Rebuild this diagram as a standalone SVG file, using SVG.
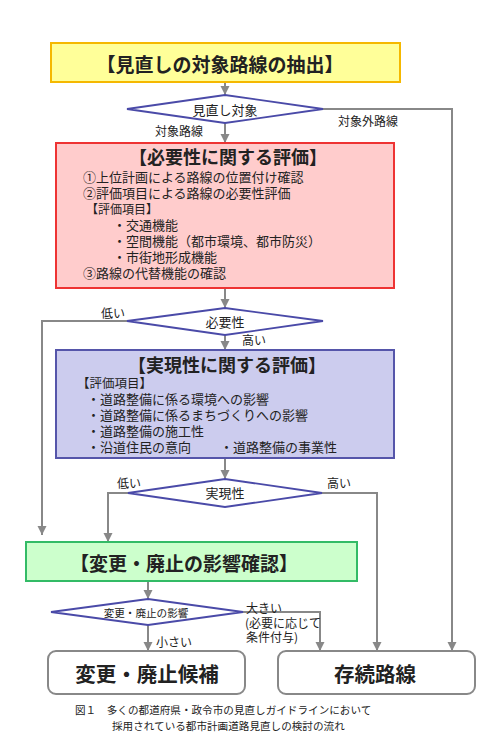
<svg xmlns="http://www.w3.org/2000/svg" width="493" height="732" viewBox="0 0 493 732">
<defs>
<style>
text{font-family:"Noto Sans CJK JP","Noto Sans CJK SC",sans-serif;fill:#222;dominant-baseline:central}
.t{font-weight:bold;text-anchor:middle}
.d{fill:#fff;stroke:#4a4aa8;stroke-width:1.8}
.c path{fill:none;stroke:#888;stroke-width:2}
.lb{font-size:12px}
.it{font-size:13px}
</style>
<marker id="ah" markerUnits="userSpaceOnUse" markerWidth="10" markerHeight="10" refX="9" refY="5" orient="auto"><path d="M0,0.5 L9,5 L0,9.5 Z" fill="#888"/></marker>
</defs>
<rect width="493" height="732" fill="#fff"/>

<g class="c">
<path d="M225,82 V95" marker-end="url(#ah)"/>
<path d="M225,123 V143" marker-end="url(#ah)"/>
<path d="M323,109 H452 V651" marker-end="url(#ah)"/>
<path d="M225,288 V308" marker-end="url(#ah)"/>
<path d="M127,321 H42 V535" marker-end="url(#ah)"/>
<path d="M225,335 V350" marker-end="url(#ah)"/>
<path d="M225,458 V479" marker-end="url(#ah)"/>
<path d="M128,493 H108 V542" marker-end="url(#ah)"/>
<path d="M322,493 H377 V651" marker-end="url(#ah)"/>
<path d="M148,581 V599" marker-end="url(#ah)"/>
<path d="M243,612 H320 V651" marker-end="url(#ah)"/>
<path d="M148,625 V651" marker-end="url(#ah)"/>
</g>

<g id="extract">
<rect x="51" y="43" width="349" height="39" fill="#ffff99" stroke="#f5b800" stroke-width="2"/>
<text class="t" x="220" y="63" font-size="19">【見直しの対象路線の抽出】</text>
</g>

<g id="dec1">
<polygon class="d" points="127,109 225,95 323,109 225,123"/>
<text x="225" y="109" font-size="13" text-anchor="middle">見直し対象</text>
</g>
<text class="lb" x="155" y="130">対象路線</text>
<text class="lb" x="338" y="120">対象外路線</text>

<g id="necessity">
<rect x="56" y="143" width="338" height="145" fill="#ffcccc" stroke="#ee3333" stroke-width="2"/>
<text class="t" x="228" y="156" font-size="18">【必要性に関する評価】</text>
<text class="it" x="83" y="176">①上位計画による路線の位置付け確認</text>
<text class="it" x="83" y="192">②評価項目による路線の必要性評価</text>
<text x="86" y="208" font-size="12">【評価項目】</text>
<text class="it" x="113" y="224">・交通機能</text>
<text class="it" x="113" y="240">・空間機能（都市環境、都市防災）</text>
<text class="it" x="113" y="256">・市街地形成機能</text>
<text class="it" x="83" y="272">③路線の代替機能の確認</text>
</g>

<g id="dec2">
<polygon class="d" points="127,321 225,308 323,321 225,335"/>
<text x="225" y="321" font-size="13" text-anchor="middle">必要性</text>
</g>
<text class="lb" x="101" y="312">低い</text>
<text class="lb" x="242" y="339">高い</text>

<g id="feasibility">
<rect x="56" y="350" width="338" height="108" fill="#ccccee" stroke="#5555aa" stroke-width="2"/>
<text class="t" x="227" y="364" font-size="18">【実現性に関する評価】</text>
<text x="77" y="382" font-size="12.5">【評価項目】</text>
<text class="it" x="87" y="398">・道路整備に係る環境への影響</text>
<text class="it" x="87" y="414">・道路整備に係るまちづくりへの影響</text>
<text class="it" x="87" y="430">・道路整備の施工性</text>
<text class="it" x="87" y="446">・沿道住民の意向</text>
<text class="it" x="220" y="446">・道路整備の事業性</text>
</g>

<g id="dec3">
<polygon class="d" points="128,493 225,479 322,493 225,507"/>
<text x="225" y="492" font-size="13" text-anchor="middle">実現性</text>
</g>
<text class="lb" x="117" y="482">低い</text>
<text class="lb" x="327" y="482">高い</text>

<g id="impact">
<rect x="26" y="542" width="331" height="39" fill="#ccffcc" stroke="#33bb66" stroke-width="2"/>
<text class="t" x="184" y="562" font-size="19">【変更・廃止の影響確認】</text>
</g>

<g id="dec4">
<polygon class="d" points="51,612 148,599 243,612 148,625"/>
<text x="146" y="612" font-size="10.6" text-anchor="middle">変更・廃止の影響</text>
</g>
<text class="lb" x="246" y="607">大きい</text>
<text class="lb" x="245" y="622">(必要に応じて</text>
<text class="lb" x="246" y="636">条件付与)</text>
<text class="lb" x="156" y="641">小さい</text>

<g id="candidate">
<rect x="48" y="651" width="197" height="43" rx="8" fill="#fff" stroke="#888" stroke-width="2"/>
<text class="t" x="147" y="673" font-size="20.5">変更・廃止候補</text>
</g>

<g id="keep">
<rect x="278" y="651" width="197" height="43" rx="8" fill="#fff" stroke="#888" stroke-width="2"/>
<text class="t" x="375" y="673" font-size="20.5">存続路線</text>
</g>

<text x="75" y="709" font-size="10.6">図１　多くの都道府県・政令市の見直しガイドラインにおいて</text>
<text x="112" y="725" font-size="10.6">採用されている都市計画道路見直しの検討の流れ</text>
</svg>
